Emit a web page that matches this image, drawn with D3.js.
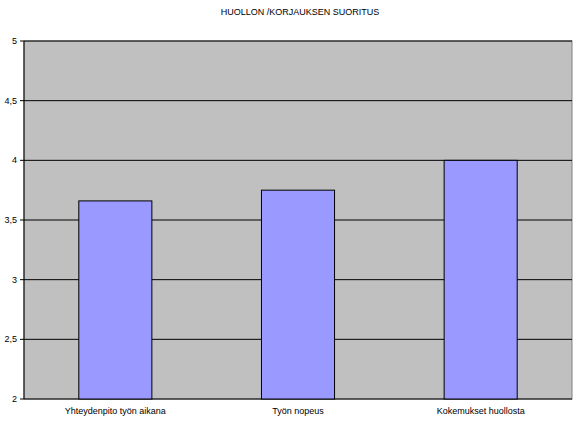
<!DOCTYPE html><html><head><meta charset="utf-8"><script src="https://cdn.jsdelivr.net/npm/d3@7"></script>
<style>body{margin:0;background:#fff}text{font-family:"Liberation Sans",Arial,sans-serif}</style></head><body><svg id="c" width="575" height="421"></svg>
<script>
const categories=["Yhteydenpito työn aikana","Työn nopeus","Kokemukset huollosta"];
const values=[3.66,3.75,4.0];
const ticks=[2,2.5,3,3.5,4,4.5,5];
const tickLabels=["2","2,5","3","3,5","4","4,5","5"];
const svg=d3.select("#c");
const L=24,R=572,T=41,B=399;
const x=d3.scaleBand().domain(categories).range([L,R]).paddingInner(0.6).paddingOuter(0.3);
const y=d3.scaleLinear().domain([2,5]).range([B,T]);
svg.append("rect").attr("x",L).attr("y",T).attr("width",R-L).attr("height",B-T).attr("fill","#c0c0c0").attr("stroke","#808080");
ticks.forEach((t,i)=>{
 svg.append("line").attr("x1",L).attr("x2",R).attr("y1",y(t)).attr("y2",y(t)).attr("stroke","#000");
 svg.append("line").attr("x1",L-4).attr("x2",L).attr("y1",y(t)).attr("y2",y(t)).attr("stroke","#000");
 svg.append("text").attr("x",L-7).attr("y",y(t)+3).attr("text-anchor","end").attr("font-size",9).text(tickLabels[i]);
});
svg.append("line").attr("x1",L).attr("x2",L).attr("y1",T).attr("y2",B).attr("stroke","#000");
svg.selectAll(".b").data(values).enter().append("rect").attr("x",(d,i)=>x(categories[i])).attr("width",x.bandwidth())
 .attr("y",d=>y(d)).attr("height",d=>B-y(d)).attr("fill","#9999ff").attr("stroke","#000");
categories.forEach(c=>svg.append("text").attr("x",x(c)+x.bandwidth()/2).attr("y",414).attr("text-anchor","middle").attr("font-size",9).text(c));
svg.append("text").attr("x",300).attr("y",15).attr("text-anchor","middle").attr("font-size",9).text("HUOLLON /KORJAUKSEN SUORITUS");
</script></body></html>
